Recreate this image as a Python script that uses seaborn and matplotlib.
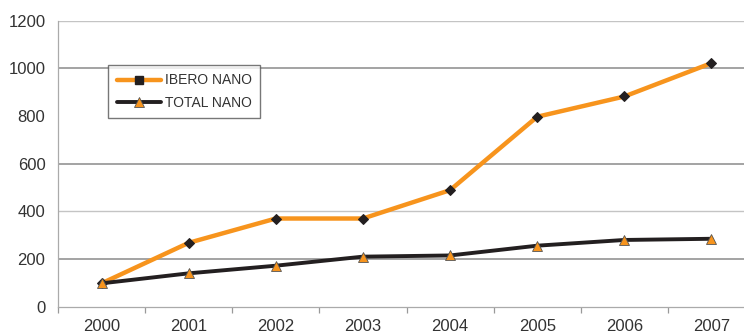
import matplotlib
matplotlib.use("Agg")
import matplotlib.pyplot as plt
from matplotlib.lines import Line2D
from matplotlib.ticker import FixedLocator, NullFormatter
import seaborn as sns
import pandas as pd

years = [2000, 2001, 2002, 2003, 2004, 2005, 2006, 2007]
ibero_nano = [98, 268, 370, 370, 489, 797, 882, 1022]
total_nano = [98, 140, 172, 210, 215, 256, 280, 285]
series_names = ["IBERO NANO", "TOTAL NANO"]
y_ticks = [0, 200, 400, 600, 800, 1000, 1200]
grid_levels_dark = [200, 600, 1000]
grid_levels_light = [400, 1200]

sns.set_theme(style="white")
plt.rcParams["font.family"] = ["Liberation Sans", "DejaVu Sans"]

df = pd.DataFrame({
    "year": years * 2,
    "value": ibero_nano + total_nano,
    "series": [series_names[0]] * len(years) + [series_names[1]] * len(years),
})

fig = plt.figure(figsize=(7.44, 3.34), dpi=100)
ax = fig.add_axes([58 / 744, 1 - 306.7 / 334, (755 - 58) / 744, (306.7 - 20.7) / 334])

for lv in grid_levels_dark:
    ax.axhline(lv, color="#8a8a8a", lw=1.1, zorder=0)
for lv in grid_levels_light:
    ax.axhline(lv, color="#c4c4c4", lw=1.0, zorder=0)

orange = "#F7941D"
dark = "#231F20"
sns.lineplot(data=df[df.series == series_names[0]], x="year", y="value", ax=ax,
             color=orange, lw=3.2, marker="D", markersize=5.5,
             markerfacecolor=dark, markeredgecolor=dark, legend=False, zorder=3)
sns.lineplot(data=df[df.series == series_names[1]], x="year", y="value", ax=ax,
             color=dark, lw=2.8, marker="^", markersize=6.5,
             markerfacecolor=orange, markeredgecolor="#555555", markeredgewidth=0.6,
             legend=False, zorder=4)

ax.set_xlim(years[0] - 0.5, years[-1] + 0.5)
ax.set_ylim(0, 1200)
ax.set_xticks(years)
ax.set_xticklabels([str(y) for y in years])
ax.xaxis.set_minor_locator(FixedLocator([y - 0.5 for y in years] + [years[-1] + 0.5]))
ax.xaxis.set_minor_formatter(NullFormatter())
ax.tick_params(axis="x", which="major", length=0, pad=9, labelsize=12, labelcolor="#333333")
ax.tick_params(axis="x", which="minor", length=4, width=0.9, color="#999999", direction="out", bottom=True)
ax.set_yticks(y_ticks)
ax.tick_params(axis="y", length=0, pad=9, labelsize=12, labelcolor="#333333")
ax.set_xlabel("")
ax.set_ylabel("")

for s in ["top", "right"]:
    ax.spines[s].set_visible(False)
ax.spines["left"].set_color("#aaaaaa")
ax.spines["left"].set_linewidth(0.9)
ax.spines["bottom"].set_color("#aaaaaa")
ax.spines["bottom"].set_linewidth(0.9)

handles = [
    Line2D([], [], color=orange, lw=3.2, marker="s", markersize=6,
           markerfacecolor=dark, markeredgecolor=dark),
    Line2D([], [], color=dark, lw=2.8, marker="^", markersize=6.5,
           markerfacecolor=orange, markeredgecolor="#555555", markeredgewidth=0.6),
]
leg = ax.legend(handles, series_names, loc="upper left", bbox_to_anchor=(0.072, 0.845),
                frameon=True, fancybox=False, fontsize=10, handlelength=3.2,
                borderpad=0.6, labelspacing=0.6, handletextpad=0.3, borderaxespad=0)
leg.get_frame().set_edgecolor("#555555")
leg.get_frame().set_linewidth(1.0)
for t in leg.get_texts():
    t.set_color("#333333")

fig.savefig("out.png", dpi=100)
